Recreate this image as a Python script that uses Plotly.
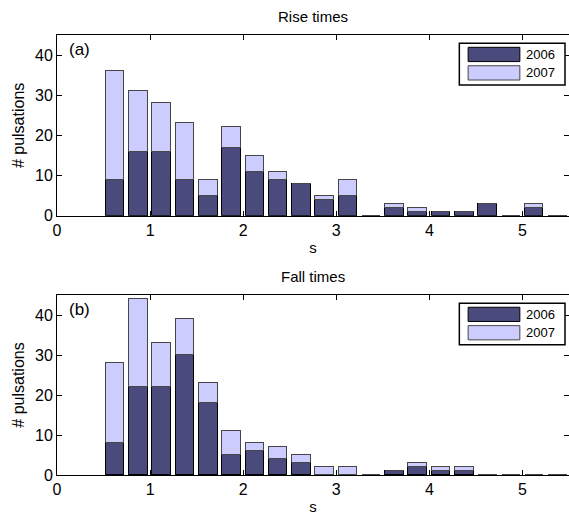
import plotly.graph_objects as go

# Bin centres (s)
bins = [0.625, 0.875, 1.125, 1.375, 1.625, 1.875, 2.125, 2.375, 2.625, 2.875,
        3.125, 3.375, 3.625, 3.875, 4.125, 4.375, 4.625, 4.875, 5.125, 5.375]

# Rise times: counts per year (stacked)
rise_2006 = [9, 16, 16, 9, 5, 17, 11, 9, 8, 4, 5, 0, 2, 1, 1, 1, 3, 0, 2, 0]
rise_2007 = [27, 15, 12, 14, 4, 5, 4, 2, 0, 1, 4, 0, 1, 1, 0, 0, 0, 0, 1, 0]

# Fall times: counts per year (stacked)
fall_2006 = [8, 22, 22, 30, 18, 5, 6, 4, 3, 0, 0, 0, 1, 2, 1, 1, 0, 0, 0, 0]
fall_2007 = [20, 22, 11, 9, 5, 6, 2, 3, 2, 2, 2, 0, 0, 1, 1, 1, 0, 0, 0, 0]

years = ["2006", "2007"]
x_ticks = [0, 1, 2, 3, 4, 5]
y_ticks = [0, 10, 20, 30, 40]
panel_titles = ["Rise times", "Fall times"]
panel_labels = ["(a)", "(b)"]

DARK = "rgb(74,74,124)"
LIGHT = "rgb(204,204,255)"
FONT = "Liberation Sans, Arial, sans-serif"

fig = go.Figure()

panels = [("x", "y", rise_2006, rise_2007), ("x2", "y2", fall_2006, fall_2007)]
for xa, ya, d06, d07 in panels:
    fig.add_trace(go.Bar(x=bins, y=d06, width=0.2, name=years[0], xaxis=xa, yaxis=ya,
                         marker=dict(color=DARK, line=dict(color="black", width=1)),
                         showlegend=False))
    fig.add_trace(go.Bar(x=bins, y=d07, width=0.2, name=years[1], xaxis=xa, yaxis=ya,
                         marker=dict(color=LIGHT, line=dict(color="rgb(70,70,70)", width=1)),
                         showlegend=False))

axis_common = dict(showline=True, linecolor="black", linewidth=1, mirror="ticks",
                   ticks="inside", ticklen=5, tickcolor="black", showgrid=False,
                   zeroline=False, tickfont=dict(family=FONT, size=16, color="black"))

fig.update_layout(
    barmode="stack",
    width=569, height=518,
    margin=dict(l=57, r=0, t=35, b=43),
    plot_bgcolor="white", paper_bgcolor="white",
    font=dict(family=FONT, color="black"),
    bargap=0,
    xaxis=dict(domain=[0, 1], anchor="y", range=[0, 5.5], tickvals=x_ticks,
               title=dict(text="s", font=dict(size=15), standoff=4), **axis_common),
    yaxis=dict(domain=[0.589, 1], anchor="x", range=[0, 45], tickvals=y_ticks,
               title=dict(text="# pulsations", font=dict(size=16), standoff=6), **axis_common),
    xaxis2=dict(domain=[0, 1], anchor="y2", range=[0, 5.5], tickvals=x_ticks,
                title=dict(text="s", font=dict(size=15), standoff=4), **axis_common),
    yaxis2=dict(domain=[0, 0.409], anchor="x2", range=[0, 45], tickvals=y_ticks,
                title=dict(text="# pulsations", font=dict(size=16), standoff=6), **axis_common),
)

annotations = []
shapes = []
for i, (xa, ya) in enumerate([("x", "y"), ("x2", "y2")]):
    # panel title
    annotations.append(dict(text=panel_titles[i], xref=f"{xa} domain", yref=f"{ya} domain",
                            x=0.5, y=1.0, yshift=8, xanchor="center", yanchor="bottom",
                            showarrow=False, font=dict(size=15, family=FONT)))
    # panel label
    annotations.append(dict(text=panel_labels[i], xref=f"{xa} domain", yref=f"{ya} domain",
                            x=0.02, y=0.985, xanchor="left", yanchor="top",
                            showarrow=False, font=dict(size=17, family=FONT)))
    # legend box
    xr, yr = f"{xa} domain", f"{ya} domain"
    shapes.append(dict(type="rect", xref=xr, yref=yr, x0=0.7858, x1=0.9922, y0=0.724, y1=0.955,
                       line=dict(color="black", width=1.5), fillcolor="white", layer="above"))
    for j, (yr0, yr1, col, lc) in enumerate([(0.853, 0.932, DARK, "black"),
                                             (0.751, 0.83, LIGHT, "rgb(70,70,70)")]):
        shapes.append(dict(type="rect", xref=xr, yref=yr, x0=0.803, x1=0.904, y0=yr0, y1=yr1,
                           line=dict(color=lc, width=1), fillcolor=col, layer="above"))
        annotations.append(dict(text=years[j], xref=xr, yref=yr, x=0.912, y=(yr0 + yr1) / 2,
                                xanchor="left", yanchor="middle", showarrow=False,
                                font=dict(size=13, family=FONT)))

fig.update_layout(annotations=annotations, shapes=shapes)

fig.write_html("out.html")
